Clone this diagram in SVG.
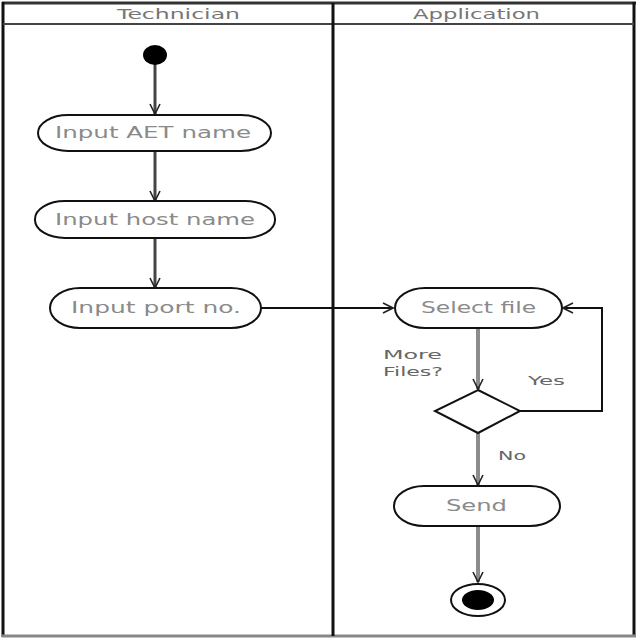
<svg xmlns="http://www.w3.org/2000/svg" width="640" height="640" viewBox="0 0 640 640">
  <defs>
    <marker id="vee" viewBox="0 0 12 12" refX="11" refY="6" markerWidth="12" markerHeight="12" markerUnits="userSpaceOnUse" orient="auto">
      <path d="M1,1 L11,6 L1,11" fill="none" stroke="#222" stroke-width="1.6"/>
    </marker>
  </defs>
  <style>
    .lane-title { font-family: "DejaVu Sans", sans-serif; font-size: 14px; fill: #777; }
    .action { fill: #fff; stroke: #111; stroke-width: 2; }
    .action-text { font-family: "DejaVu Sans", sans-serif; font-size: 15px; fill: #8a8a8a; dominant-baseline: central; }
    .guard { font-family: "DejaVu Sans", sans-serif; font-size: 13px; fill: #666; }
    .flow-dark { fill: none; stroke: #444; stroke-width: 3; marker-end: url(#vee); }
    .flow-grey { fill: none; stroke: #8c8c8c; stroke-width: 4; marker-end: url(#vee); }
    .flow-thin { fill: none; stroke: #111; stroke-width: 2; marker-end: url(#vee); }
  </style>

  <rect width="640" height="640" fill="#fff"/>

  <!-- swimlane frame -->
  <g id="swimlanes">
    <line x1="2" y1="3" x2="636" y2="3" stroke="#333" stroke-width="3"/>
    <line x1="3" y1="2" x2="3" y2="637" stroke="#111" stroke-width="3"/>
    <line x1="634" y1="2" x2="634" y2="637" stroke="#111" stroke-width="3"/>
    <line x1="2" y1="636" x2="636" y2="636" stroke="#888" stroke-width="3"/>
    <line x1="3" y1="24" x2="634" y2="24" stroke="#444" stroke-width="2"/>
    <line x1="333" y1="3" x2="333" y2="636" stroke="#111" stroke-width="3"/>
    <text class="lane-title" x="117" y="19" textLength="123" lengthAdjust="spacingAndGlyphs">Technician</text>
    <text class="lane-title" x="413" y="19" textLength="127" lengthAdjust="spacingAndGlyphs">Application</text>
  </g>

  <!-- connectors -->
  <g id="connectors">
    <line class="flow-dark" x1="155" y1="64" x2="155" y2="114"/>
    <line class="flow-dark" x1="155" y1="151" x2="155" y2="201"/>
    <line class="flow-dark" x1="155" y1="238" x2="155" y2="288"/>
    <line class="flow-thin" x1="261" y1="308" x2="393" y2="308"/>
    <line class="flow-grey" x1="478" y1="328" x2="478" y2="389"/>
    <polyline class="flow-thin" points="520,411 602,411 602,308 563,308"/>
    <line class="flow-grey" x1="478" y1="433" x2="478" y2="485"/>
    <line class="flow-grey" x1="478" y1="526" x2="478" y2="582"/>
  </g>

  <g id="start">
    <ellipse cx="155" cy="55" rx="12" ry="10" fill="#000"/>
  </g>

  <g id="input-aet-name">
    <rect class="action" x="38" y="115" width="233" height="36" rx="30" ry="18"/>
    <text class="action-text" x="55" y="133" textLength="196" lengthAdjust="spacingAndGlyphs">Input AET name</text>
  </g>

  <g id="input-host-name">
    <rect class="action" x="35" y="201" width="240" height="37" rx="30" ry="18"/>
    <text class="action-text" x="55" y="219.5" textLength="200" lengthAdjust="spacingAndGlyphs">Input host name</text>
  </g>

  <g id="input-port-no">
    <rect class="action" x="50" y="288" width="211" height="40" rx="30" ry="20"/>
    <text class="action-text" x="71" y="308" textLength="170" lengthAdjust="spacingAndGlyphs">Input port no.</text>
  </g>

  <g id="select-file">
    <rect class="action" x="395" y="288" width="167" height="40" rx="30" ry="20"/>
    <text class="action-text" x="421" y="308" textLength="115" lengthAdjust="spacingAndGlyphs">Select file</text>
  </g>

  <g id="more-files">
    <polygon points="478,390 520,411 478,433 435,411" fill="#fff" stroke="#111" stroke-width="2"/>
    <text class="guard" x="383" y="359" textLength="59" lengthAdjust="spacingAndGlyphs">More</text>
    <text class="guard" x="383" y="376" textLength="60" lengthAdjust="spacingAndGlyphs">Files?</text>
    <text class="guard" x="528" y="385" textLength="37" lengthAdjust="spacingAndGlyphs">Yes</text>
    <text class="guard" x="498" y="460" textLength="28" lengthAdjust="spacingAndGlyphs">No</text>
  </g>

  <g id="send">
    <rect class="action" x="394" y="486" width="166" height="40" rx="30" ry="20"/>
    <text class="action-text" x="446" y="506" textLength="61" lengthAdjust="spacingAndGlyphs">Send</text>
  </g>

  <g id="end">
    <ellipse cx="478" cy="600" rx="27" ry="16" fill="#fff" stroke="#111" stroke-width="2"/>
    <ellipse cx="478" cy="600" rx="16" ry="10" fill="#000"/>
  </g>
</svg>
